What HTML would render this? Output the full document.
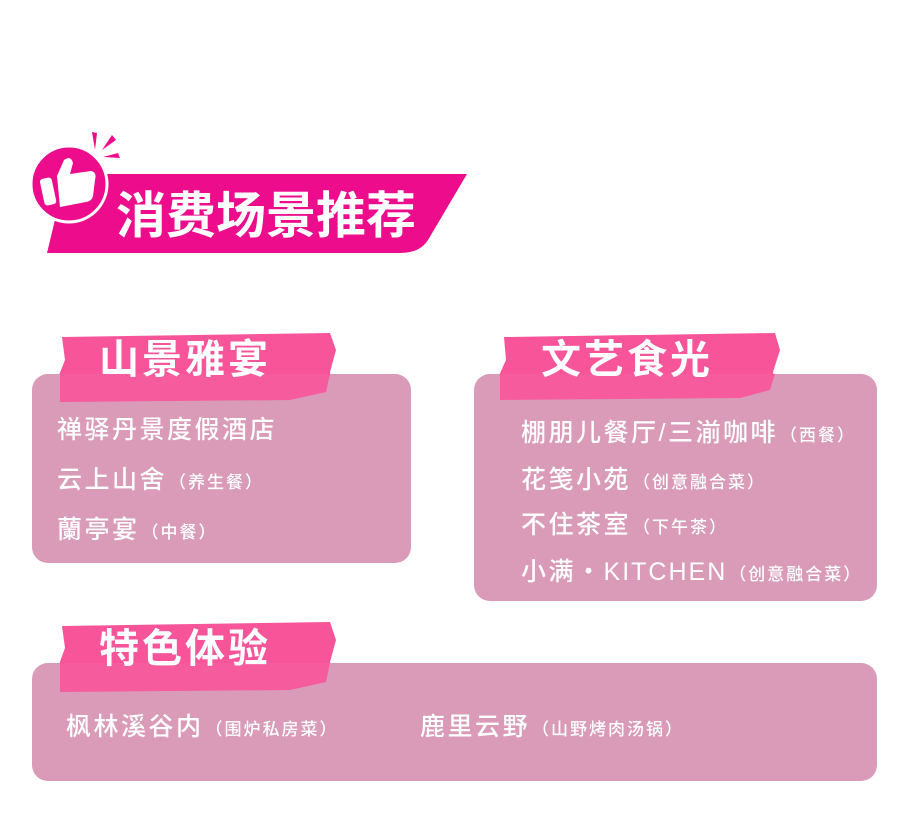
<!DOCTYPE html>
<html><head><meta charset="utf-8"><style>
*{margin:0;padding:0}
body{width:921px;height:821px;background:#fff;position:relative;overflow:hidden;font-family:"Liberation Sans","Noto Sans CJK SC",sans-serif;font-weight:bold;color:#fff}
.box{position:absolute;background:#d99bb8;border-radius:16px}
.t{position:absolute;white-space:nowrap;font-size:25px;line-height:28px;font-weight:500;letter-spacing:2.5px}
.t small{font-size:17px;letter-spacing:2px;margin-left:2px}
.t i{font-style:normal;letter-spacing:2px}
.h{position:absolute;font-size:40px;line-height:48px;font-weight:bold;letter-spacing:3px}
</style></head><body>
<svg width="921" height="821" style="position:absolute;left:0;top:0">
<path d="M66 174 L467 174 L428 240 Q420 253 400 253 L47 253 Z" fill="#ec0c8c"/>
<circle cx="69" cy="184" r="38" fill="#ec0c8c" stroke="#fff" stroke-width="3"/>
<path d="M57 176 L64 160 Q71 155 73 163 L70 174 L91 171 Q97 172 95 180 L93 196 Q92 201 86 202 L60 207 Z" fill="#fff"/>
<rect x="42" y="178" width="12" height="27" rx="3" fill="#fff" transform="rotate(-12 48 191)"/>
<path d="M92 132 L97 133 L95 150 Z M112 135 L116 140 L102 150 Z M118 153 L120 158 L103 157 Z" fill="#ec0c8c"/>
<g fill="#f7549a">
<path d="M62 337 L330 333 L336 350 L330 372 L333 392 L300 400 L60 402 L57 380 L65 360 Z"/>
<path d="M504 337 L775 333 L780 350 L773 372 L776 390 L740 398 L500 400 L497 380 L506 360 Z"/>
<path d="M62 626 L330 622 L336 640 L330 662 L333 682 L300 690 L60 692 L57 670 L65 648 Z"/>
</g>
</svg>
<div class="box" style="left:32px;top:374px;width:379px;height:189px"></div>
<div class="box" style="left:474px;top:374px;width:403px;height:227px"></div>
<div class="box" style="left:32px;top:663px;width:845px;height:118px"></div>
<svg width="921" height="821" style="position:absolute;left:0;top:0">
<g fill="#f7549a">
<path d="M60 374 L330 374 L326 392 L290 400 L60 402 Z" opacity=".9"/>
<path d="M500 374 L775 374 L770 390 L740 398 L500 400 Z" opacity=".9"/>
<path d="M60 663 L330 663 L326 682 L290 690 L60 692 Z" opacity=".9"/>
</g>
</svg>
<div style="position:absolute;left:116px;top:188px;font-size:50px;line-height:56px;letter-spacing:0px;color:#fff">消费场景推荐</div>
<div class="h" style="left:99px;top:336px">山景雅宴</div>
<div class="h" style="left:541px;top:336px">文艺食光</div>
<div class="h" style="left:99px;top:625px">特色体验</div>
<div class="t" style="left:57px;top:416px">禅驿丹景度假酒店</div>
<div class="t" style="left:57px;top:466px">云上山舍<small>（养生餐）</small></div>
<div class="t" style="left:57px;top:516px">蘭亭宴<small>（中餐）</small></div>
<div class="t" style="left:521px;top:419px">棚朋儿餐厅/三湔咖啡<small>（西餐）</small></div>
<div class="t" style="left:521px;top:466px">花笺小苑<small>（创意融合菜）</small></div>
<div class="t" style="left:521px;top:511px">不住茶室<small>（下午茶）</small></div>
<div class="t" style="left:521px;top:558px">小满・<i>KITCHEN</i><small>（创意融合菜）</small></div>
<div class="t" style="left:66px;top:713px">枫林溪谷内<small>（围炉私房菜）</small></div>
<div class="t" style="left:420px;top:713px">鹿里云野<small>（山野烤肉汤锅）</small></div>
</body></html>
